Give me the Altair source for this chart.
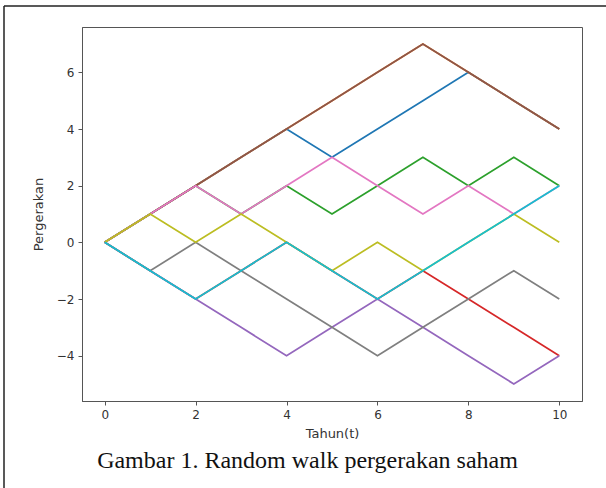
import altair as alt
import pandas as pd

tahun = list(range(11))
walk_0 = [0, 1, 2, 3, 4, 3, 4, 5, 6, 5, 4]          # blue
walk_1 = [0, 1, 2, 3, 4, 5, 6, 7, 6, 5, 4]          # orange (hidden)
walk_2 = [0, 1, 2, 1, 2, 1, 2, 3, 2, 3, 2]          # green
walk_3 = [0, -1, -2, -1, 0, -1, -2, -1, -2, -3, -4] # red
walk_4 = [0, -1, -2, -3, -4, -3, -2, -3, -4, -5, -4] # purple
walk_5 = [0, 1, 2, 3, 4, 5, 6, 7, 6, 5, 4]          # brown
walk_6 = [0, 1, 2, 1, 2, 3, 2, 1, 2, 1, 2]          # pink
walk_7 = [0, -1, 0, -1, -2, -3, -4, -3, -2, -1, -2] # gray
walk_8 = [0, 1, 0, 1, 0, -1, 0, -1, 0, 1, 0]        # olive
walk_9 = [0, -1, -2, -1, 0, -1, -2, -1, 0, 1, 2]    # cyan

walks = [walk_0, walk_1, walk_2, walk_3, walk_4, walk_5, walk_6, walk_7, walk_8, walk_9]
colors = ["#1f77b4", "#ff7f0e", "#2ca02c", "#d62728", "#9467bd",
          "#8c564b", "#e377c2", "#7f7f7f", "#bcbd22", "#17becf"]

x_ticks = [0, 2, 4, 6, 8, 10]
y_ticks = [-4, -2, 0, 2, 4, 6]
caption = "Gambar 1. Random walk pergerakan saham"

rows = []
for i, w in enumerate(walks):
    for t, v in zip(tahun, w):
        rows.append({"seri": i, "t": t, "v": v})
df = pd.DataFrame(rows)

W, H = 500, 374
L, T = 82, 27

xs = alt.Scale(domain=[-0.5, 10.5], nice=False, zero=False)
ys = alt.Scale(domain=[-5.6, 7.6], nice=False, zero=False)

layers = []
for i in range(len(walks)):
    enc = dict(
        x=alt.X("t:Q", scale=xs,
                axis=alt.Axis(values=x_ticks, title="Tahun(t)", format="d",
                              titlePadding=7)),
        y=alt.Y("v:Q", scale=ys,
                axis=alt.Axis(values=y_ticks, title="Pergerakan", format="d",
                              titlePadding=11)),
    )
    layers.append(
        alt.Chart(df).transform_filter(alt.datum.seri == i)
        .mark_line(color=colors[i], strokeWidth=1.7, clip=True)
        .encode(**enc)
    )

one = pd.DataFrame({"a": [0]})
cap = alt.Chart(one).mark_text(
    text=caption, font="Liberation Serif", fontSize=24, color="#111",
    align="center", baseline="alphabetic"
).encode(x=alt.value(307.5 - L), y=alt.value(468 - T))

frame_left = alt.Chart(one).mark_rule(color="#222", strokeWidth=1.5).encode(
    x=alt.value(4 - L), y=alt.value(6 - T), y2=alt.value(488 - T + 10))
frame_top = alt.Chart(one).mark_rule(color="#222", strokeWidth=1.5).encode(
    x=alt.value(4 - L), x2=alt.value(606 - L + 10), y=alt.value(6 - T))

chart = alt.layer(*layers, cap, frame_left, frame_top).properties(
    width=W, height=H,
    autosize=alt.AutoSizeParams(type="none"),
    padding={"left": L, "top": T, "right": 606 - L - W, "bottom": 488 - T - H},
    background="white",
).configure_view(stroke="#555", strokeWidth=1).configure_axis(
    grid=False, domainColor="#555", tickColor="#555", tickSize=4,
    labelFont="DejaVu Sans", labelFontSize=12, labelColor="#333",
    titleFont="DejaVu Sans", titleFontSize=13, titleColor="#333",
    titleFontWeight="normal", labelPadding=4,
)

chart.save("out.html", embed_options={"renderer": "svg", "actions": False})
